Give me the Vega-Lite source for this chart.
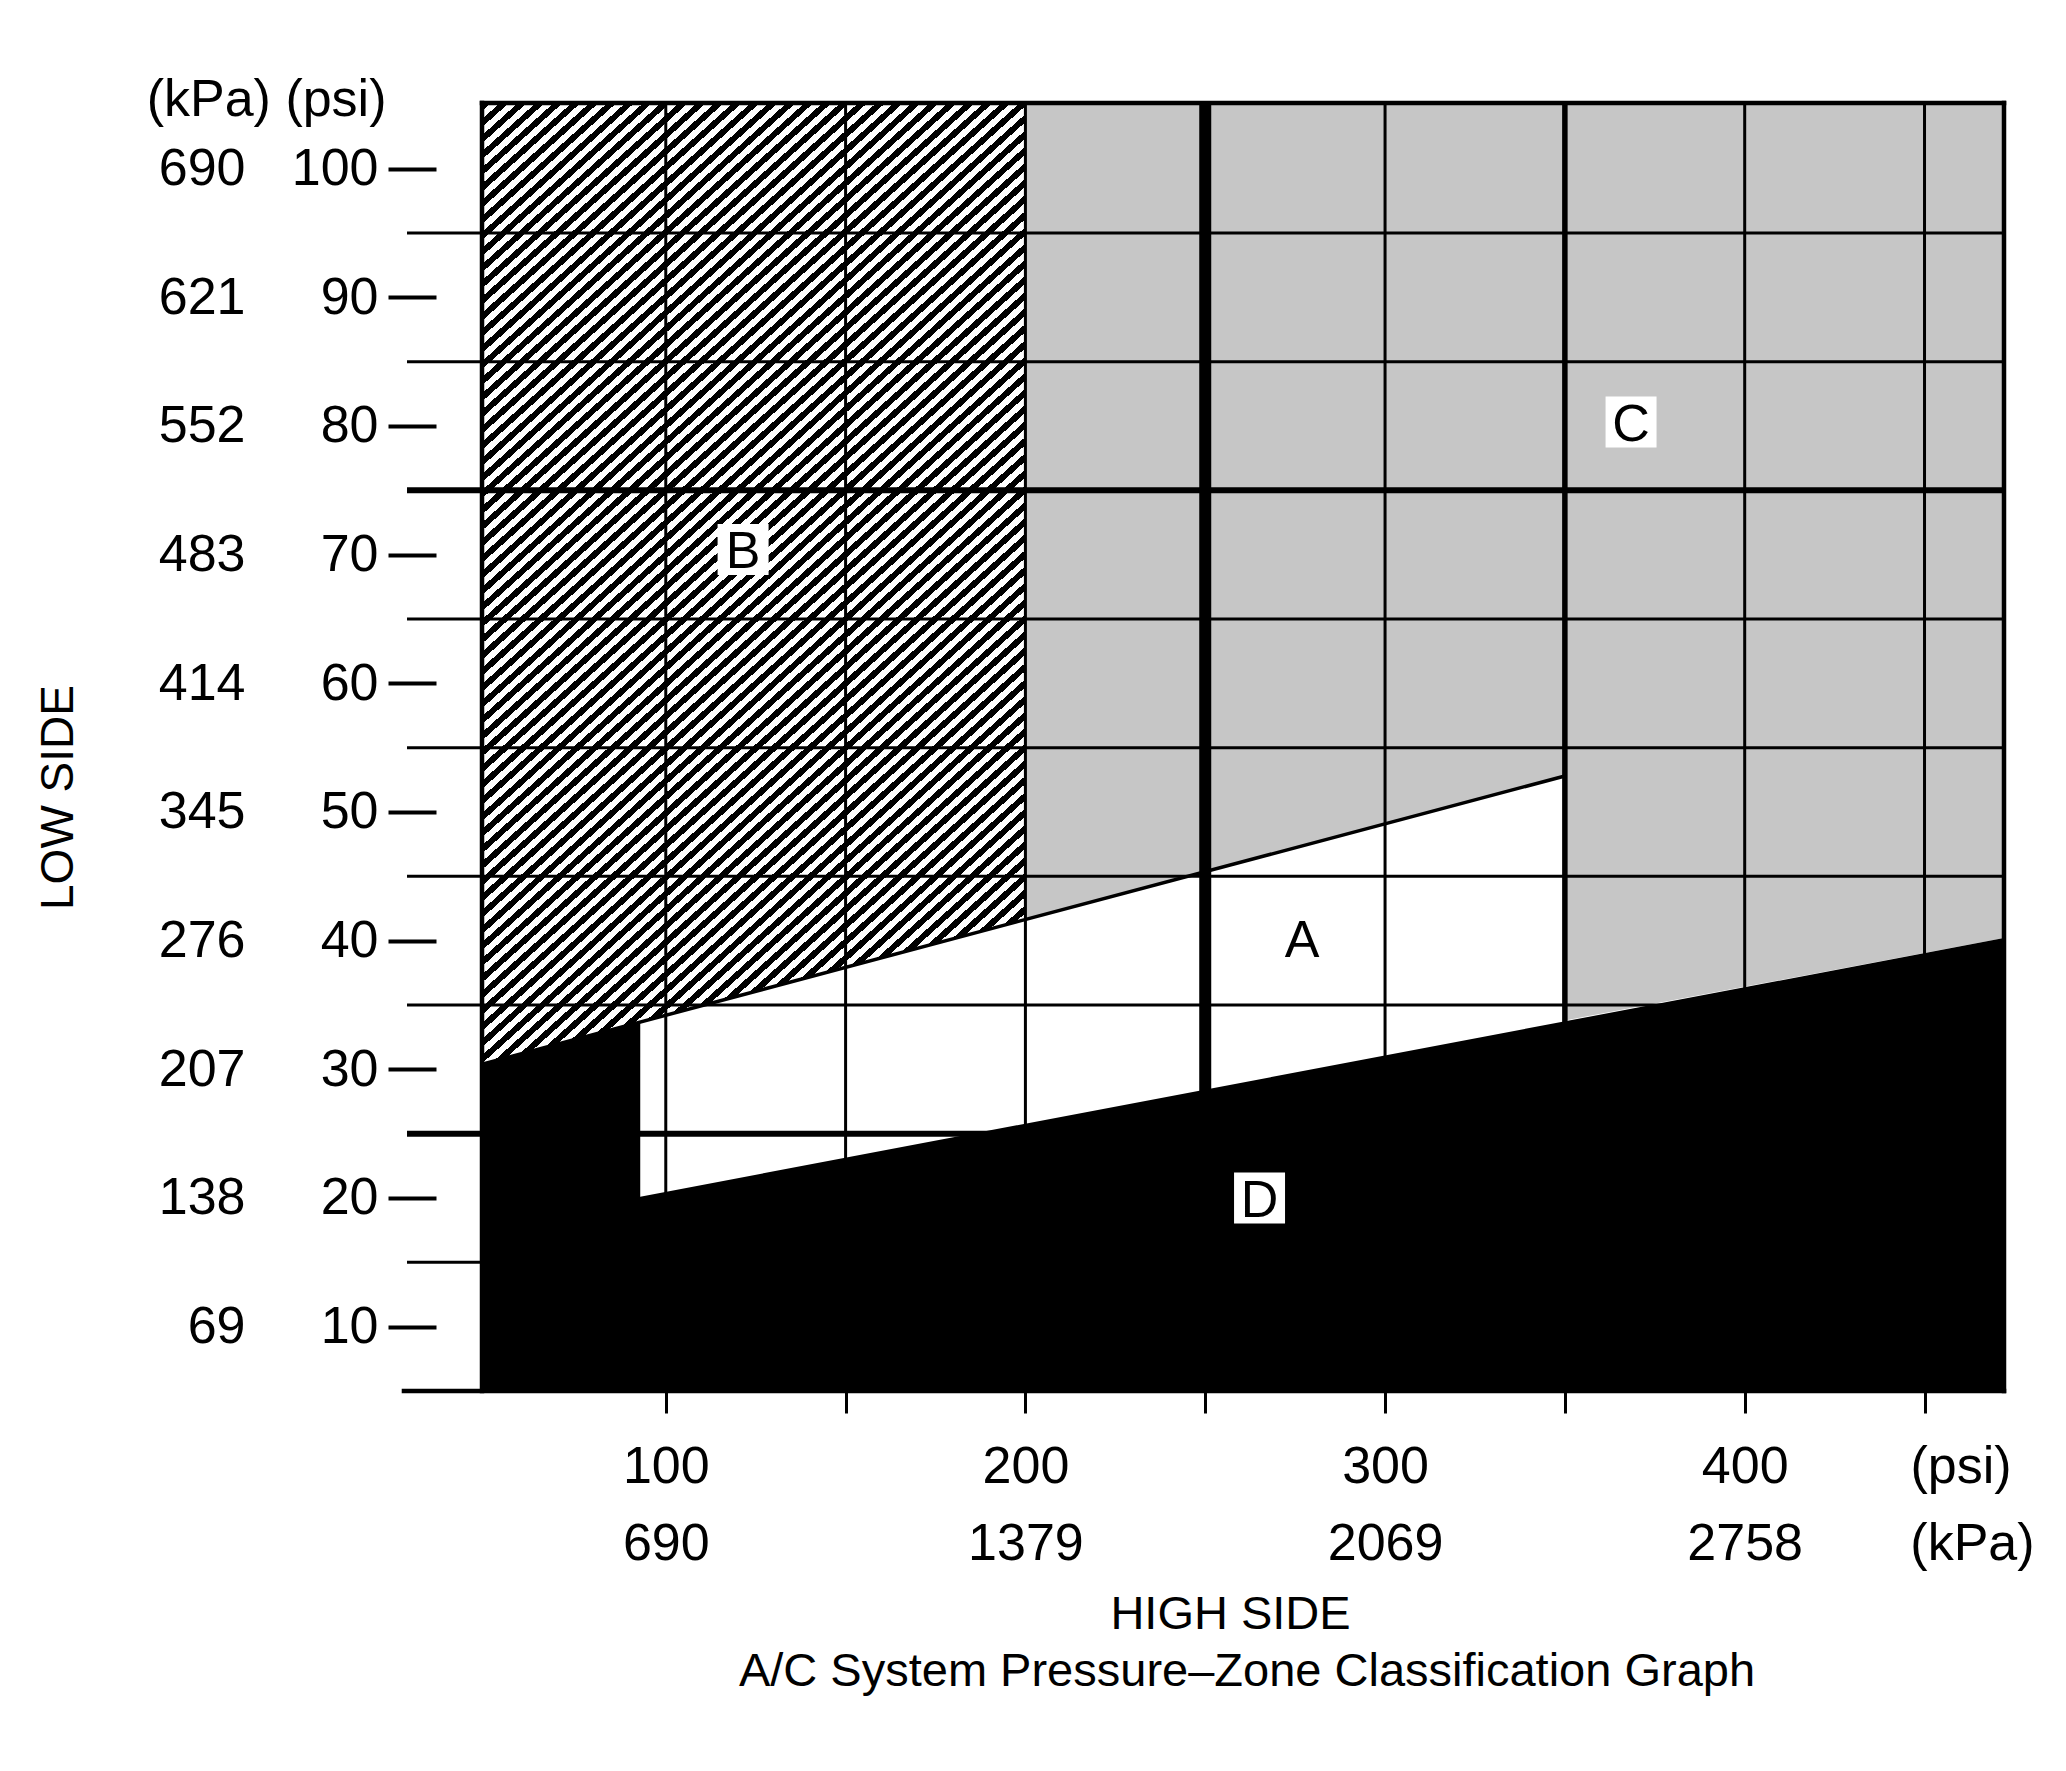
{
"$schema":"https://vega.github.io/schema/vega-lite/v6.json",
"autosize":"none",
"width":1522,"height":1288,
"padding":{"left":482,"top":103,"right":62,"bottom":380},
"background":"white",
"config":{"view":{"stroke":null},
"axis":{"grid":false,"domain":false,"labelFont":"Liberation Sans","labelFontSize":52,"labelColor":"black","titleFont":"Liberation Sans","titleFontSize":47,"titleFontWeight":"normal","titleColor":"black","tickColor":"black","labelOverlap":false,"labelBound":false,"labelFlush":false}},
"datasets":{
"zones":[
{"seg":"B","x":48.9,"low":30.4,"high":105.1},
{"seg":"B","x":200,"low":41.6,"high":105.1},
{"seg":"C1","x":200,"low":41.6,"high":105.1},
{"seg":"C1","x":350,"low":52.8,"high":105.1},
{"seg":"C2","x":350,"low":33.8,"high":105.1},
{"seg":"C2","x":472.1,"low":40.2,"high":105.1},
{"seg":"D1","x":48.9,"low":5,"high":30.4},
{"seg":"D1","x":92.9,"low":5,"high":33.7},
{"seg":"D2","x":48.9,"low":5,"high":17.8},
{"seg":"D2","x":92.9,"low":5,"high":20.1},
{"seg":"D2","x":472.1,"low":5,"high":40.2}],
"boundary":[{"x":48.9,"y":30.4},{"x":350,"y":52.8}],
"vgrid":[{"x":100},{"x":150},{"x":200},{"x":250},{"x":300},{"x":350},{"x":400},{"x":450}],
"hgrid":[{"y":15},{"y":25},{"y":35},{"y":45},{"y":55},{"y":65},{"y":75},{"y":85},{"y":95}],
"frame":[{"x":48.9,"x2":48.9,"y":5,"y2":105.1},{"x":48.9,"x2":472.1,"y":105.1,"y2":105.1},{"x":472.1,"x2":472.1,"y":5,"y2":105.1},{"x":27.2,"x2":472.1,"y":5,"y2":5}],
"zonelabels":[{"zone":"A","x":276.9,"y":40.2},{"zone":"B","x":121.5,"y":70.4},{"zone":"C","x":368.4,"y":80.3},{"zone":"D","x":265.1,"y":20.0}]
},
"resolve":{"axis":{"x":"independent","y":"independent"}},
"layer":[
{"data":{"name":"zones"},"transform":[{"filter":"datum.seg == 'B'"}],
"mark":{"type":"area","stroke":null,"fill":{"gradient":"linear","x1":0,"y1":0,"x2":0.679,"y2":1.3336,"stops":[
{"offset":0,"color":"#000"},{"offset":0.005,"color":"#000"},{"offset":0.005,"color":"#fff"},{"offset":0.01,"color":"#fff"},
{"offset":0.01,"color":"#000"},{"offset":0.015,"color":"#000"},{"offset":0.015,"color":"#fff"},{"offset":0.02,"color":"#fff"},
{"offset":0.02,"color":"#000"},{"offset":0.025,"color":"#000"},{"offset":0.025,"color":"#fff"},{"offset":0.03,"color":"#fff"},
{"offset":0.03,"color":"#000"},{"offset":0.035,"color":"#000"},{"offset":0.035,"color":"#fff"},{"offset":0.04,"color":"#fff"},
{"offset":0.04,"color":"#000"},{"offset":0.045,"color":"#000"},{"offset":0.045,"color":"#fff"},{"offset":0.05,"color":"#fff"},
{"offset":0.05,"color":"#000"},{"offset":0.055,"color":"#000"},{"offset":0.055,"color":"#fff"},{"offset":0.06,"color":"#fff"},
{"offset":0.06,"color":"#000"},{"offset":0.065,"color":"#000"},{"offset":0.065,"color":"#fff"},{"offset":0.07,"color":"#fff"},
{"offset":0.07,"color":"#000"},{"offset":0.075,"color":"#000"},{"offset":0.075,"color":"#fff"},{"offset":0.08,"color":"#fff"},
{"offset":0.08,"color":"#000"},{"offset":0.085,"color":"#000"},{"offset":0.085,"color":"#fff"},{"offset":0.09,"color":"#fff"},
{"offset":0.09,"color":"#000"},{"offset":0.095,"color":"#000"},{"offset":0.095,"color":"#fff"},{"offset":0.1,"color":"#fff"},
{"offset":0.1,"color":"#000"},{"offset":0.105,"color":"#000"},{"offset":0.105,"color":"#fff"},{"offset":0.11,"color":"#fff"},
{"offset":0.11,"color":"#000"},{"offset":0.115,"color":"#000"},{"offset":0.115,"color":"#fff"},{"offset":0.12,"color":"#fff"},
{"offset":0.12,"color":"#000"},{"offset":0.125,"color":"#000"},{"offset":0.125,"color":"#fff"},{"offset":0.13,"color":"#fff"},
{"offset":0.13,"color":"#000"},{"offset":0.135,"color":"#000"},{"offset":0.135,"color":"#fff"},{"offset":0.14,"color":"#fff"},
{"offset":0.14,"color":"#000"},{"offset":0.145,"color":"#000"},{"offset":0.145,"color":"#fff"},{"offset":0.15,"color":"#fff"},
{"offset":0.15,"color":"#000"},{"offset":0.155,"color":"#000"},{"offset":0.155,"color":"#fff"},{"offset":0.16,"color":"#fff"},
{"offset":0.16,"color":"#000"},{"offset":0.165,"color":"#000"},{"offset":0.165,"color":"#fff"},{"offset":0.17,"color":"#fff"},
{"offset":0.17,"color":"#000"},{"offset":0.175,"color":"#000"},{"offset":0.175,"color":"#fff"},{"offset":0.18,"color":"#fff"},
{"offset":0.18,"color":"#000"},{"offset":0.185,"color":"#000"},{"offset":0.185,"color":"#fff"},{"offset":0.19,"color":"#fff"},
{"offset":0.19,"color":"#000"},{"offset":0.195,"color":"#000"},{"offset":0.195,"color":"#fff"},{"offset":0.2,"color":"#fff"},
{"offset":0.2,"color":"#000"},{"offset":0.205,"color":"#000"},{"offset":0.205,"color":"#fff"},{"offset":0.21,"color":"#fff"},
{"offset":0.21,"color":"#000"},{"offset":0.215,"color":"#000"},{"offset":0.215,"color":"#fff"},{"offset":0.22,"color":"#fff"},
{"offset":0.22,"color":"#000"},{"offset":0.225,"color":"#000"},{"offset":0.225,"color":"#fff"},{"offset":0.23,"color":"#fff"},
{"offset":0.23,"color":"#000"},{"offset":0.235,"color":"#000"},{"offset":0.235,"color":"#fff"},{"offset":0.24,"color":"#fff"},
{"offset":0.24,"color":"#000"},{"offset":0.245,"color":"#000"},{"offset":0.245,"color":"#fff"},{"offset":0.25,"color":"#fff"},
{"offset":0.25,"color":"#000"},{"offset":0.255,"color":"#000"},{"offset":0.255,"color":"#fff"},{"offset":0.26,"color":"#fff"},
{"offset":0.26,"color":"#000"},{"offset":0.265,"color":"#000"},{"offset":0.265,"color":"#fff"},{"offset":0.27,"color":"#fff"},
{"offset":0.27,"color":"#000"},{"offset":0.275,"color":"#000"},{"offset":0.275,"color":"#fff"},{"offset":0.28,"color":"#fff"},
{"offset":0.28,"color":"#000"},{"offset":0.285,"color":"#000"},{"offset":0.285,"color":"#fff"},{"offset":0.29,"color":"#fff"},
{"offset":0.29,"color":"#000"},{"offset":0.295,"color":"#000"},{"offset":0.295,"color":"#fff"},{"offset":0.3,"color":"#fff"},
{"offset":0.3,"color":"#000"},{"offset":0.305,"color":"#000"},{"offset":0.305,"color":"#fff"},{"offset":0.31,"color":"#fff"},
{"offset":0.31,"color":"#000"},{"offset":0.315,"color":"#000"},{"offset":0.315,"color":"#fff"},{"offset":0.32,"color":"#fff"},
{"offset":0.32,"color":"#000"},{"offset":0.325,"color":"#000"},{"offset":0.325,"color":"#fff"},{"offset":0.33,"color":"#fff"},
{"offset":0.33,"color":"#000"},{"offset":0.335,"color":"#000"},{"offset":0.335,"color":"#fff"},{"offset":0.34,"color":"#fff"},
{"offset":0.34,"color":"#000"},{"offset":0.345,"color":"#000"},{"offset":0.345,"color":"#fff"},{"offset":0.35,"color":"#fff"},
{"offset":0.35,"color":"#000"},{"offset":0.355,"color":"#000"},{"offset":0.355,"color":"#fff"},{"offset":0.36,"color":"#fff"},
{"offset":0.36,"color":"#000"},{"offset":0.365,"color":"#000"},{"offset":0.365,"color":"#fff"},{"offset":0.37,"color":"#fff"},
{"offset":0.37,"color":"#000"},{"offset":0.375,"color":"#000"},{"offset":0.375,"color":"#fff"},{"offset":0.38,"color":"#fff"},
{"offset":0.38,"color":"#000"},{"offset":0.385,"color":"#000"},{"offset":0.385,"color":"#fff"},{"offset":0.39,"color":"#fff"},
{"offset":0.39,"color":"#000"},{"offset":0.395,"color":"#000"},{"offset":0.395,"color":"#fff"},{"offset":0.4,"color":"#fff"},
{"offset":0.4,"color":"#000"},{"offset":0.405,"color":"#000"},{"offset":0.405,"color":"#fff"},{"offset":0.41,"color":"#fff"},
{"offset":0.41,"color":"#000"},{"offset":0.415,"color":"#000"},{"offset":0.415,"color":"#fff"},{"offset":0.42,"color":"#fff"},
{"offset":0.42,"color":"#000"},{"offset":0.425,"color":"#000"},{"offset":0.425,"color":"#fff"},{"offset":0.43,"color":"#fff"},
{"offset":0.43,"color":"#000"},{"offset":0.435,"color":"#000"},{"offset":0.435,"color":"#fff"},{"offset":0.44,"color":"#fff"},
{"offset":0.44,"color":"#000"},{"offset":0.445,"color":"#000"},{"offset":0.445,"color":"#fff"},{"offset":0.45,"color":"#fff"},
{"offset":0.45,"color":"#000"},{"offset":0.455,"color":"#000"},{"offset":0.455,"color":"#fff"},{"offset":0.46,"color":"#fff"},
{"offset":0.46,"color":"#000"},{"offset":0.465,"color":"#000"},{"offset":0.465,"color":"#fff"},{"offset":0.47,"color":"#fff"},
{"offset":0.47,"color":"#000"},{"offset":0.475,"color":"#000"},{"offset":0.475,"color":"#fff"},{"offset":0.48,"color":"#fff"},
{"offset":0.48,"color":"#000"},{"offset":0.485,"color":"#000"},{"offset":0.485,"color":"#fff"},{"offset":0.49,"color":"#fff"},
{"offset":0.49,"color":"#000"},{"offset":0.495,"color":"#000"},{"offset":0.495,"color":"#fff"},{"offset":0.5,"color":"#fff"},
{"offset":0.5,"color":"#000"},{"offset":0.505,"color":"#000"},{"offset":0.505,"color":"#fff"},{"offset":0.51,"color":"#fff"},
{"offset":0.51,"color":"#000"},{"offset":0.515,"color":"#000"},{"offset":0.515,"color":"#fff"},{"offset":0.52,"color":"#fff"},
{"offset":0.52,"color":"#000"},{"offset":0.525,"color":"#000"},{"offset":0.525,"color":"#fff"},{"offset":0.53,"color":"#fff"},
{"offset":0.53,"color":"#000"},{"offset":0.535,"color":"#000"},{"offset":0.535,"color":"#fff"},{"offset":0.54,"color":"#fff"},
{"offset":0.54,"color":"#000"},{"offset":0.545,"color":"#000"},{"offset":0.545,"color":"#fff"},{"offset":0.55,"color":"#fff"},
{"offset":0.55,"color":"#000"},{"offset":0.555,"color":"#000"},{"offset":0.555,"color":"#fff"},{"offset":0.56,"color":"#fff"},
{"offset":0.56,"color":"#000"},{"offset":0.565,"color":"#000"},{"offset":0.565,"color":"#fff"},{"offset":0.57,"color":"#fff"},
{"offset":0.57,"color":"#000"},{"offset":0.575,"color":"#000"},{"offset":0.575,"color":"#fff"},{"offset":0.58,"color":"#fff"},
{"offset":0.58,"color":"#000"},{"offset":0.585,"color":"#000"},{"offset":0.585,"color":"#fff"},{"offset":0.59,"color":"#fff"},
{"offset":0.59,"color":"#000"},{"offset":0.595,"color":"#000"},{"offset":0.595,"color":"#fff"},{"offset":0.6,"color":"#fff"},
{"offset":0.6,"color":"#000"},{"offset":0.605,"color":"#000"},{"offset":0.605,"color":"#fff"},{"offset":0.61,"color":"#fff"},
{"offset":0.61,"color":"#000"},{"offset":0.615,"color":"#000"},{"offset":0.615,"color":"#fff"},{"offset":0.62,"color":"#fff"},
{"offset":0.62,"color":"#000"},{"offset":0.625,"color":"#000"},{"offset":0.625,"color":"#fff"},{"offset":0.63,"color":"#fff"},
{"offset":0.63,"color":"#000"},{"offset":0.635,"color":"#000"},{"offset":0.635,"color":"#fff"},{"offset":0.64,"color":"#fff"},
{"offset":0.64,"color":"#000"},{"offset":0.645,"color":"#000"},{"offset":0.645,"color":"#fff"},{"offset":0.65,"color":"#fff"},
{"offset":0.65,"color":"#000"},{"offset":0.655,"color":"#000"},{"offset":0.655,"color":"#fff"},{"offset":0.66,"color":"#fff"},
{"offset":0.66,"color":"#000"},{"offset":0.665,"color":"#000"},{"offset":0.665,"color":"#fff"},{"offset":0.67,"color":"#fff"},
{"offset":0.67,"color":"#000"},{"offset":0.675,"color":"#000"},{"offset":0.675,"color":"#fff"},{"offset":0.68,"color":"#fff"},
{"offset":0.68,"color":"#000"},{"offset":0.685,"color":"#000"},{"offset":0.685,"color":"#fff"},{"offset":0.69,"color":"#fff"},
{"offset":0.69,"color":"#000"},{"offset":0.695,"color":"#000"},{"offset":0.695,"color":"#fff"},{"offset":0.7,"color":"#fff"},
{"offset":0.7,"color":"#000"},{"offset":0.705,"color":"#000"},{"offset":0.705,"color":"#fff"},{"offset":0.71,"color":"#fff"},
{"offset":0.71,"color":"#000"},{"offset":0.715,"color":"#000"},{"offset":0.715,"color":"#fff"},{"offset":0.72,"color":"#fff"},
{"offset":0.72,"color":"#000"},{"offset":0.725,"color":"#000"},{"offset":0.725,"color":"#fff"},{"offset":0.73,"color":"#fff"},
{"offset":0.73,"color":"#000"},{"offset":0.735,"color":"#000"},{"offset":0.735,"color":"#fff"},{"offset":0.74,"color":"#fff"},
{"offset":0.74,"color":"#000"},{"offset":0.745,"color":"#000"},{"offset":0.745,"color":"#fff"},{"offset":0.75,"color":"#fff"},
{"offset":0.75,"color":"#000"},{"offset":0.755,"color":"#000"},{"offset":0.755,"color":"#fff"},{"offset":0.76,"color":"#fff"},
{"offset":0.76,"color":"#000"},{"offset":0.765,"color":"#000"},{"offset":0.765,"color":"#fff"},{"offset":0.77,"color":"#fff"},
{"offset":0.77,"color":"#000"},{"offset":0.775,"color":"#000"},{"offset":0.775,"color":"#fff"},{"offset":0.78,"color":"#fff"},
{"offset":0.78,"color":"#000"},{"offset":0.785,"color":"#000"},{"offset":0.785,"color":"#fff"},{"offset":0.79,"color":"#fff"},
{"offset":0.79,"color":"#000"},{"offset":0.795,"color":"#000"},{"offset":0.795,"color":"#fff"},{"offset":0.8,"color":"#fff"},
{"offset":0.8,"color":"#000"},{"offset":0.805,"color":"#000"},{"offset":0.805,"color":"#fff"},{"offset":0.81,"color":"#fff"},
{"offset":0.81,"color":"#000"},{"offset":0.815,"color":"#000"},{"offset":0.815,"color":"#fff"},{"offset":0.82,"color":"#fff"},
{"offset":0.82,"color":"#000"},{"offset":0.825,"color":"#000"},{"offset":0.825,"color":"#fff"},{"offset":0.83,"color":"#fff"},
{"offset":0.83,"color":"#000"},{"offset":0.835,"color":"#000"},{"offset":0.835,"color":"#fff"},{"offset":0.84,"color":"#fff"},
{"offset":0.84,"color":"#000"},{"offset":0.845,"color":"#000"},{"offset":0.845,"color":"#fff"},{"offset":0.85,"color":"#fff"},
{"offset":0.85,"color":"#000"},{"offset":0.855,"color":"#000"},{"offset":0.855,"color":"#fff"},{"offset":0.86,"color":"#fff"},
{"offset":0.86,"color":"#000"},{"offset":0.865,"color":"#000"},{"offset":0.865,"color":"#fff"},{"offset":0.87,"color":"#fff"},
{"offset":0.87,"color":"#000"},{"offset":0.875,"color":"#000"},{"offset":0.875,"color":"#fff"},{"offset":0.88,"color":"#fff"},
{"offset":0.88,"color":"#000"},{"offset":0.885,"color":"#000"},{"offset":0.885,"color":"#fff"},{"offset":0.89,"color":"#fff"},
{"offset":0.89,"color":"#000"},{"offset":0.895,"color":"#000"},{"offset":0.895,"color":"#fff"},{"offset":0.9,"color":"#fff"}
]}},
"encoding":{
"x":{"field":"x","type":"quantitative","scale":{"domain":[48.9,472.1],"nice":false,"zero":false},
"axis":{"orient":"bottom","values":[100,200,300,400,460],"ticks":false,"tickSize":0,"labelPadding":50,"labelExpr":"datum.value > 450 ? '(psi)' : datum.label","title":"HIGH SIDE","titleX":748,"titleY":237,"titleAlign":"center","titleBaseline":"alphabetic"}},
"y":{"field":"low","type":"quantitative","stack":null,"scale":{"domain":[5,105.1],"nice":false,"zero":false},
"axis":{"orient":"left","offset":46,"values":[10,20,30,40,50,60,70,80,90,100],"ticks":false,"tickSize":0,"labelPadding":191,"labelAlign":"right","labelBaseline":"middle","labelExpr":"datum.value == 10 ? '69' : datum.value == 20 ? '138' : datum.value == 30 ? '207' : datum.value == 40 ? '276' : datum.value == 50 ? '345' : datum.value == 60 ? '414' : datum.value == 70 ? '483' : datum.value == 80 ? '552' : datum.value == 90 ? '621' : '690'","title":"LOW SIDE","titleAngle":270,"titleAlign":"center","titleBaseline":"middle","titleX":-378,"titleY":694,"titleFontSize":46}},
"y2":{"field":"high"}}},
{"data":{"name":"zones"},"transform":[{"filter":"datum.seg != 'B'"}],
"mark":{"type":"area","stroke":null,"opacity":1},
"encoding":{
"x":{"field":"x","type":"quantitative","scale":{"domain":[48.9,472.1],"nice":false,"zero":false},"axis":null},
"y":{"field":"low","type":"quantitative","stack":null,"scale":{"domain":[5,105.1],"nice":false,"zero":false},"axis":null},
"y2":{"field":"high"},
"color":{"field":"seg","type":"nominal","scale":{"domain":["C1","C2","D1","D2"],"range":["#c6c6c6","#c6c6c6","#000000","#000000"]},"legend":null}}},
{"data":{"name":"vgrid"},"transform":[{"filter":"datum.x != 250 && datum.x != 350"}],
"mark":{"type":"rule","color":"black","strokeWidth":3},
"encoding":{
"x":{"field":"x","type":"quantitative","scale":{"domain":[48.9,472.1],"nice":false,"zero":false},
"axis":{"orient":"bottom","values":[100,150,200,250,300,350,400,450],"labels":false,"ticks":true,"tickSize":22,"tickWidth":3,"title":null}},
"y":{"datum":5,"type":"quantitative","scale":{"domain":[5,105.1],"nice":false,"zero":false},"axis":null},
"y2":{"datum":105.1}}},
{"data":{"name":"vgrid"},"transform":[{"filter":"datum.x == 350"}],
"mark":{"type":"rule","color":"black","strokeWidth":5.5},
"encoding":{
"x":{"field":"x","type":"quantitative","scale":{"domain":[48.9,472.1],"nice":false,"zero":false},"axis":null},
"y":{"datum":5,"type":"quantitative","scale":{"domain":[5,105.1],"nice":false,"zero":false},"axis":null},
"y2":{"datum":105.1}}},
{"data":{"name":"vgrid"},"transform":[{"filter":"datum.x == 250"}],
"mark":{"type":"rule","color":"black","strokeWidth":12},
"encoding":{
"x":{"field":"x","type":"quantitative","scale":{"domain":[48.9,472.1],"nice":false,"zero":false},"axis":null},
"y":{"datum":5,"type":"quantitative","scale":{"domain":[5,105.1],"nice":false,"zero":false},"axis":null},
"y2":{"datum":105.1}}},
{"data":{"name":"hgrid"},"transform":[{"filter":"datum.y != 25 && datum.y != 75"}],
"mark":{"type":"rule","color":"black","strokeWidth":3},
"encoding":{
"y":{"field":"y","type":"quantitative","scale":{"domain":[5,105.1],"nice":false,"zero":false},
"axis":{"orient":"left","offset":46,"values":[10,20,30,40,50,60,70,80,90,100],"tickSize":48,"tickWidth":4,"labelPadding":10,"labelAlign":"right","labelBaseline":"middle","title":"(kPa) (psi)","titleAngle":0,"titleAlign":"right","titleBaseline":"alphabetic","titleX":-50,"titleY":12,"titleFontSize":52}},
"x":{"datum":28.05,"type":"quantitative","scale":{"domain":[48.9,472.1],"nice":false,"zero":false},"axis":null},
"x2":{"datum":472.1}}},
{"data":{"name":"hgrid"},"transform":[{"filter":"datum.y == 25 || datum.y == 75"}],
"mark":{"type":"rule","color":"black","strokeWidth":6},
"encoding":{
"y":{"field":"y","type":"quantitative","scale":{"domain":[5,105.1],"nice":false,"zero":false},"axis":null},
"x":{"datum":28.05,"type":"quantitative","scale":{"domain":[48.9,472.1],"nice":false,"zero":false},"axis":null},
"x2":{"datum":472.1}}},
{"data":{"name":"boundary"},
"mark":{"type":"line","color":"black","strokeWidth":3.5},
"encoding":{
"x":{"field":"x","type":"quantitative","scale":{"domain":[48.9,472.1],"nice":false,"zero":false},"axis":null},
"y":{"field":"y","type":"quantitative","scale":{"domain":[5,105.1],"nice":false,"zero":false},"axis":null}}},
{"data":{"name":"frame"},
"mark":{"type":"rule","color":"black","strokeWidth":4.5,"strokeCap":"square"},
"encoding":{
"x":{"field":"x","type":"quantitative","scale":{"domain":[48.9,472.1],"nice":false,"zero":false},"axis":null},
"x2":{"field":"x2"},
"y":{"field":"y","type":"quantitative","scale":{"domain":[5,105.1],"nice":false,"zero":false},"axis":null},
"y2":{"field":"y2"}}},
{"data":{"name":"zonelabels"},"transform":[{"filter":"datum.zone != 'A'"}],
"mark":{"type":"point","shape":"square","filled":true,"color":"white","opacity":1,"size":2600,"strokeWidth":0},
"encoding":{
"x":{"field":"x","type":"quantitative","scale":{"domain":[48.9,472.1],"nice":false,"zero":false},"axis":null},
"y":{"field":"y","type":"quantitative","scale":{"domain":[5,105.1],"nice":false,"zero":false},"axis":null}}},
{"data":{"name":"zonelabels"},
"mark":{"type":"text","font":"Liberation Sans","fontSize":52,"color":"black","align":"center","baseline":"middle","dy":3},
"encoding":{
"x":{"field":"x","type":"quantitative","scale":{"domain":[48.9,472.1],"nice":false,"zero":false},
"axis":{"orient":"bottom","values":[100,200,300,400,463.2],"ticks":false,"tickSize":0,"labelPadding":127,"labelExpr":"datum.value == 100 ? '690' : datum.value == 200 ? '1379' : datum.value == 300 ? '2069' : datum.value == 400 ? '2758' : '(kPa)'","title":"A/C System Pressure–Zone Classification Graph","titleX":764.5,"titleY":294,"titleAlign":"center","titleBaseline":"alphabetic"}},
"y":{"field":"y","type":"quantitative","scale":{"domain":[5,105.1],"nice":false,"zero":false},"axis":null},
"text":{"field":"zone"}}}
]
}
